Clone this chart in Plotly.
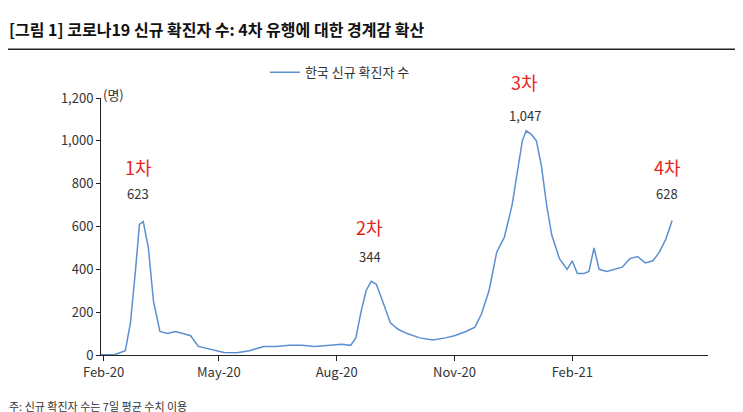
import plotly.graph_objects as go

dates = ["2020-01-25","2020-02-10","2020-02-18","2020-02-22","2020-02-26","2020-02-29","2020-03-03","2020-03-07","2020-03-11","2020-03-16",
         "2020-03-22","2020-03-28","2020-04-03","2020-04-09","2020-04-15","2020-04-25","2020-05-05","2020-05-15","2020-05-25","2020-06-05",
         "2020-06-15","2020-06-25","2020-07-05","2020-07-15","2020-07-25","2020-08-05","2020-08-12","2020-08-16","2020-08-20","2020-08-24",
         "2020-08-28","2020-09-01","2020-09-06","2020-09-12","2020-09-18","2020-09-25","2020-10-05","2020-10-15","2020-10-25","2020-11-01",
         "2020-11-10","2020-11-17","2020-11-22","2020-11-28","2020-12-04","2020-12-10","2020-12-16","2020-12-20","2020-12-24","2020-12-27",
         "2020-12-31","2021-01-04","2021-01-08","2021-01-12","2021-01-16","2021-01-22","2021-01-28","2021-02-01","2021-02-05","2021-02-10",
         "2021-02-14","2021-02-18","2021-02-22","2021-02-28","2021-03-06","2021-03-12","2021-03-18","2021-03-24","2021-03-30","2021-04-05",
         "2021-04-10","2021-04-15","2021-04-20"]
cases = [0,2,20,150,400,610,623,500,250,110,
         100,110,100,90,40,25,12,10,20,40,
         40,45,45,40,45,50,45,80,200,300,
         344,330,250,150,120,100,80,70,80,90,
         110,130,190,300,480,550,700,850,1000,1047,
         1030,1000,880,700,560,450,400,440,380,380,
         390,500,400,390,400,410,450,460,430,440,
         480,540,628]

peak_x = ["2020-02-28","2020-08-27","2020-12-26","2021-04-16"]
peak_lbl = ["1차","2차","3차","4차"]
peak_val = ["623","344","1,047","628"]
peak_num_y = [0.63, 0.385, 0.975, 0.63]   # paper coords
peak_lbl_y = [0.79, 0.5, 1.12, 0.79]

fig = go.Figure()
fig.add_trace(go.Scatter(x=dates, y=cases, mode="lines", name="한국 신규 확진자 수",
                         line=dict(color="#5b8fd0", width=1.5)))
for x, l, v, ny, ly in zip(peak_x, peak_lbl, peak_val, peak_num_y, peak_lbl_y):
    fig.add_annotation(x=x, y=ny, yref="paper", text=v, showarrow=False, font=dict(size=13, color="#333"))
    fig.add_annotation(x=x, y=ly, yref="paper", text=l, showarrow=False, font=dict(size=18, color="#e8251c"))

fig.add_annotation(xref="paper", yref="paper", x=0.0, y=1.06, text="(명)", showarrow=False,
                   font=dict(size=13, color="#333"))
fig.add_annotation(xref="paper", yref="paper", x=-0.155, y=-0.2, xanchor="left", yanchor="middle",
                   text="주: 신규 확진자 수는 7일 평균 수치 이용",
                   showarrow=False, font=dict(size=11, color="#333"))
fig.add_annotation(xref="paper", yref="paper", x=-0.155, y=1.27, xanchor="left", yanchor="middle",
                   text="<b>[그림 1] 코로나19 신규 확진자 수: 4차 유행에 대한 경계감 확산</b>",
                   showarrow=False, font=dict(size=16, color="#111"))
fig.add_shape(type="line", xref="paper", yref="paper", x0=-0.155, x1=1.07, y0=1.19, y1=1.19,
              line=dict(color="#222", width=1.5))

fig.update_layout(
    width=743, height=412, plot_bgcolor="white", paper_bgcolor="white",
    font=dict(family="Noto Sans CJK KR", size=13, color="#333"),
    margin=dict(l=93, r=43, t=90, b=65),
    showlegend=True,
    legend=dict(x=0.27, y=1.1, xanchor="left", yanchor="middle", bgcolor="rgba(0,0,0,0)", font=dict(size=13)),
    xaxis=dict(range=["2020-01-30","2021-05-18"], tickvals=["2020-02-01","2020-05-01","2020-08-01","2020-11-01","2021-02-01"],
               ticktext=["Feb-20","May-20","Aug-20","Nov-20","Feb-21"], showline=True, linecolor="#222",
               ticks="outside", ticklen=5, tickcolor="#222", showgrid=False, zeroline=False),
    yaxis=dict(range=[0,1200], tickvals=[0,200,400,600,800,1000,1200], tickformat=",",
               showline=True, linecolor="#222", ticks="outside", ticklen=4, tickcolor="#222",
               showgrid=False, zeroline=False),
)
fig.write_html("out.html")
